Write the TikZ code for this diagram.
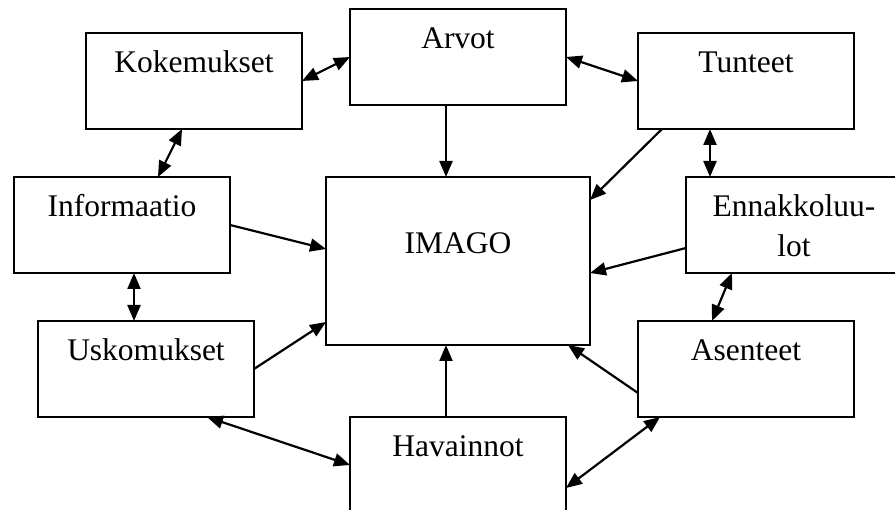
\documentclass[tikz,border=0pt]{standalone}
\usepackage{fontspec}
\setmainfont{Liberation Serif}
\usetikzlibrary{arrows.meta}
\begin{document}
\begin{tikzpicture}[x=1pt,y=1pt,
  box/.style={draw,line width=2.2pt,minimum width=216pt,minimum height=96pt,inner sep=0pt,outer sep=0pt},
  lbl/.style={anchor=base,inner sep=0pt,align=center,font=\fontsize{31.5}{40}\selectfont},
  conn/.style={line width=2.2pt,-{Triangle[length=16pt,width=13pt]}},
  both/.style={line width=2.2pt,{Triangle[length=16pt,width=13pt]}-{Triangle[length=16pt,width=13pt]}}]
\clip (0,0) rectangle (895,510);
\fill[white] (0,0) rectangle (895,510);
% boxes
\node[box] (koke) at (194,429) {};
\node[box] (arvot) at (458,453) {};
\node[box] (tunteet) at (746,429) {};
\node[box] (info) at (122,285) {};
\node[box,minimum width=264pt,minimum height=168pt] (imago) at (458,249) {};
\node[box] (ennak) at (794,285) {};
\node[box] (usko) at (146,141) {};
\node[box] (asent) at (746,141) {};
\node[box] (havain) at (458,45) {};
% labels
\node[lbl] (koke-t) at ([yshift=-40pt]koke.north) {Kokemukset};
\node[lbl] (arvot-t) at ([yshift=-40pt]arvot.north) {Arvot};
\node[lbl] (tunteet-t) at ([yshift=-40pt]tunteet.north) {Tunteet};
\node[lbl] (info-t) at ([yshift=-40pt]info.north) {Informaatio};
\node[lbl] (imago-t) at ([yshift=-77pt]imago.north) {IMAGO};
\node[lbl] (ennak-t) at ([yshift=-40pt]ennak.north) {Ennakkoluu-};
\node[lbl] (ennak-t2) at ([yshift=-80pt]ennak.north) {lot};
\node[lbl] (usko-t) at ([yshift=-40pt]usko.north) {Uskomukset};
\node[lbl] (asent-t) at ([yshift=-40pt]asent.north) {Asenteet};
\node[lbl] (havain-t) at ([yshift=-40pt]havain.north) {Havainnot};
% two-way links between neighbours
\draw[both] (koke.east) -- (arvot.west);
\draw[both] (arvot.east) -- (tunteet.west);
\draw[both] ([xshift=-12pt]koke.south) -- ([xshift=36pt]info.north);
\draw[both] ([xshift=72pt]tunteet.south west) -- ([xshift=24pt]ennak.north west);
\draw[both] ([xshift=12pt]info.south) -- ([xshift=-12pt]usko.north);
\draw[both] ([xshift=46pt]ennak.south west) -- ([xshift=74pt]asent.north west);
\draw[both] ([xshift=169pt]usko.south west) -- ([yshift=-48pt]havain.north west);
\draw[both] ([xshift=22pt]asent.south west) -- ([yshift=-71pt]havain.north east);
% influences on the image
\draw[conn] ([xshift=-12pt]arvot.south) -- ([xshift=-12pt]imago.north);
\draw[conn] ([xshift=24pt]tunteet.south west) -- ([yshift=-23pt]imago.north east);
\draw[conn] (info.east) -- ([yshift=12pt]imago.west);
\draw[conn] ([yshift=-23pt]ennak.west) -- ([yshift=-12pt]imago.east);
\draw[conn] (usko.east) -- ([yshift=23pt]imago.south west);
\draw[conn] ([yshift=-24pt]asent.west) -- ([xshift=-22pt]imago.south east);
\draw[conn] ([xshift=-12pt]havain.north) -- ([xshift=-12pt]imago.south);
\end{tikzpicture}
\end{document}
